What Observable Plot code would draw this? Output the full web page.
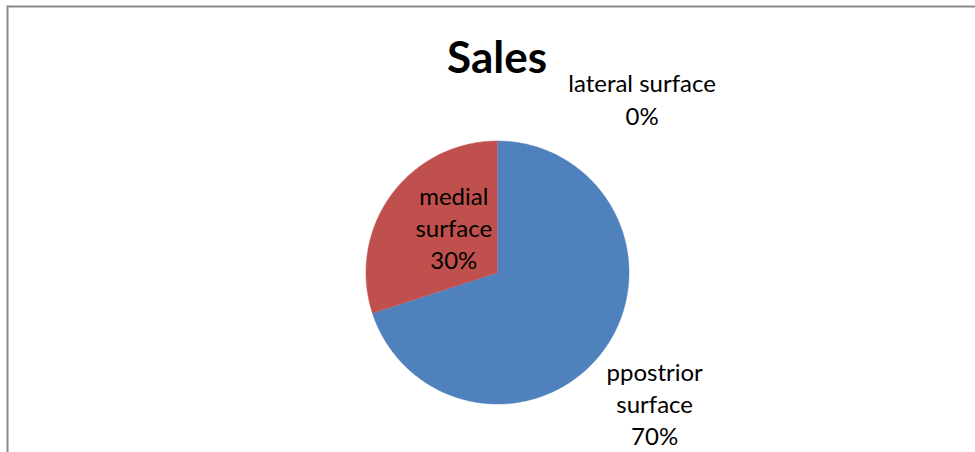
<!DOCTYPE html>
<html><head><meta charset="utf-8">
<script src="https://cdn.jsdelivr.net/npm/d3@7"></script>
<script src="https://cdn.jsdelivr.net/npm/@observablehq/plot@0.6"></script>
<style>body{margin:0;background:#fff}</style>
</head><body><div id="chart"></div>
<script>
const title = "Sales";
const categories = ["ppostrior surface", "medial surface", "lateral surface"];
const values = [70, 30, 0];
const colors = ["#4f81bd", "#c0504d", "#9bbb59"];

// layout (pixels)
const W = 975, H = 452, cx = 497, cy = 272, R = 131.5;
// label placement per slice: [angle shift (deg), radius factor, wrap words]
const labelPlace = [[4, 1.56, true], [9, 0.47, true], [40, 1.71, false]];

const total = d3.sum(values);
const arcs = d3.pie().sort(null).value((d) => d)(values);

const slicePts = [];
arcs.forEach((a, i) => {
  if (a.endAngle - a.startAngle <= 0) return;
  slicePts.push({category: categories[i], x: 0, y: 0});
  const n = Math.max(2, Math.ceil((a.endAngle - a.startAngle) / (Math.PI / 360)));
  for (let k = 0; k <= n; k++) {
    const t = a.startAngle + (a.endAngle - a.startAngle) * k / n;
    slicePts.push({category: categories[i], x: Math.sin(t), y: Math.cos(t)});
  }
});

const labels = arcs.map((a, i) => {
  const [shift, rf, wrap] = labelPlace[i];
  const mid = (a.startAngle + a.endAngle) / 2 + shift * Math.PI / 180;
  const pct = Math.round(values[i] / total * 100) + "%";
  const name = wrap ? categories[i].replace(/ /g, "\n") : categories[i];
  return {x: Math.sin(mid) * rf, y: Math.cos(mid) * rf, text: name + "\n" + pct};
});

const chart = Plot.plot({
  width: W, height: H,
  margin: 0,
  style: {fontFamily: "Lato, sans-serif", background: "#fff", color: "#000"},
  x: {type: "linear", domain: [-1, 1], range: [cx - R, cx + R], axis: null},
  y: {type: "linear", domain: [-1, 1], range: [cy + R, cy - R], axis: null},
  color: {domain: categories, range: colors},
  marks: [
    Plot.frame({stroke: "#8a8a8a", strokeWidth: 2, insetLeft: 7, insetTop: 6, insetRight: -20, insetBottom: -20}),
    Plot.line(slicePts, {x: "x", y: "y", z: "category", fill: "category", stroke: "category", strokeWidth: 0.5}),
    Plot.text(labels, {x: "x", y: "y", text: "text", fontSize: 24, lineHeight: 1.34, dy: -2, fill: "#000"}),
    Plot.text([title], {frameAnchor: "top", lineAnchor: "top", dx: 9, dy: 41, fontSize: 44, fontWeight: "bold", fill: "#000"})
  ]
});
document.getElementById("chart").appendChild(chart);
</script>
</body></html>
